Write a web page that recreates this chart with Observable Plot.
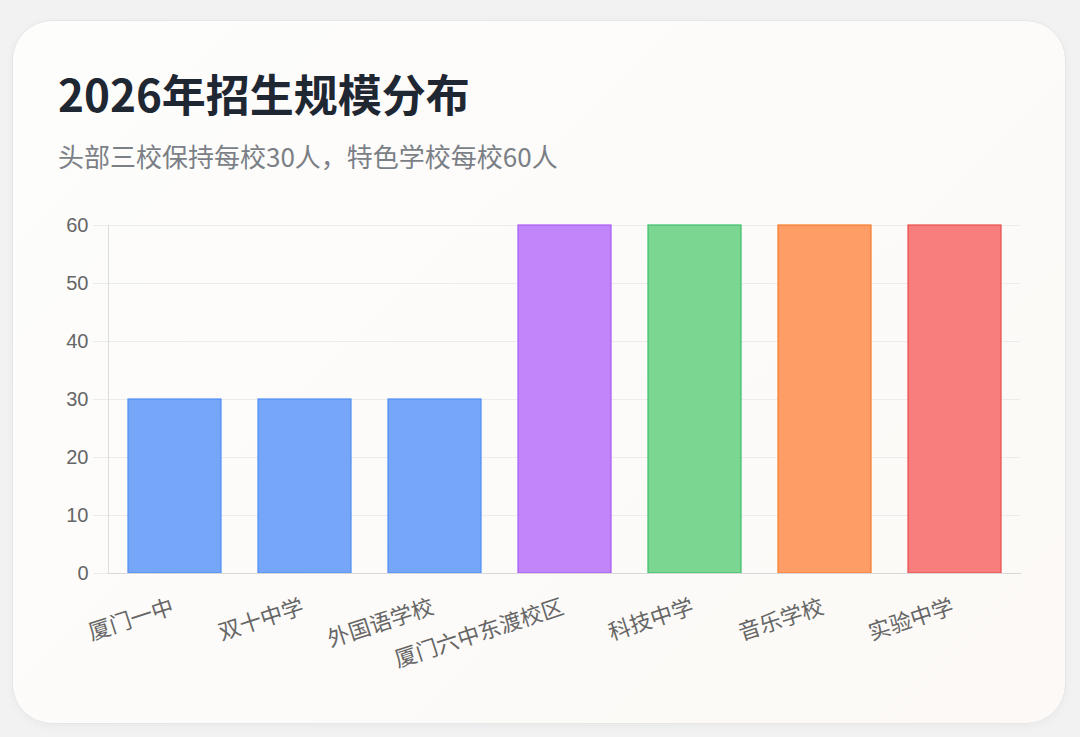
<!DOCTYPE html>
<html><head><meta charset="utf-8">
<script src="https://cdn.jsdelivr.net/npm/d3@7"></script>
<script src="https://cdn.jsdelivr.net/npm/@observablehq/plot@0.6"></script>
<style>
html,body{margin:0;padding:0;width:1080px;height:737px;overflow:hidden;background:#f2f2f2;font-family:"Liberation Sans","Noto Sans CJK SC",sans-serif;}
#card{position:absolute;left:12px;top:20px;width:1052px;height:702px;border-radius:40px;background:linear-gradient(135deg,#fdfdfc 0%,#fcf9f6 100%);border:1px solid #e6e6e6;box-shadow:0 2px 8px rgba(0,0,0,0.04);}
#title{position:absolute;left:58px;top:71px;font-family:"Noto Sans CJK SC",sans-serif;font-size:44px;line-height:1;font-weight:bold;color:#1f2733;white-space:nowrap;}
#subtitle{position:absolute;left:58px;top:143px;font-family:"Noto Sans CJK SC",sans-serif;font-size:26px;line-height:1;color:#7b7f86;white-space:nowrap;}
#chart{position:absolute;left:0;top:200px;}
</style></head>
<body>
<div id="card"></div>
<div id="title">2026年招生规模分布</div>
<div id="subtitle">头部三校保持每校30人，特色学校每校60人</div>
<div id="chart"></div>
<script>
const schools = ["厦门一中","双十中学","外国语学校","厦门六中东渡校区","科技中学","音乐学校","实验中学"];
const quotas = [30,30,30,60,60,60,60];
const fillColors = ["#76a6f8","#76a6f8","#76a6f8","#c386fa","#7bd692","#fe9e66","#f77e7c"];
const strokeColors = ["#4f8ef5","#4f8ef5","#4f8ef5","#a95cf6","#3dbd68","#f97c2c","#ea4d4d"];
const yTicks = [0,10,20,30,40,50,60];

const data = schools.map((s,i)=>({school:s, value:quotas[i], fill:fillColors[i], stroke:strokeColors[i]}));

const chart = Plot.plot({
  width:1080, height:480,
  marginLeft:108, marginRight:60, marginTop:25, marginBottom:107,
  style:{fontFamily:'"Liberation Sans","Noto Sans CJK SC",sans-serif', background:"transparent", fontSize:"20px"},
  x:{domain:schools, paddingInner:0.286, paddingOuter:0.143, label:null},
  y:{domain:[0,60], label:null},
  marks:[
    Plot.gridY(yTicks,{stroke:"#ececec", strokeOpacity:1}),
    Plot.axisY(yTicks,{tickSize:15, tickPadding:5, stroke:"#ececec", fill:"#666", fontSize:20, label:null}),
    Plot.barY(data,{x:"school", y:"value", fill:d=>d.fill, stroke:d=>d.stroke, strokeWidth:1.2}),
    Plot.frame({anchor:"left", stroke:"#dcdcdc"}),
    Plot.frame({anchor:"bottom", stroke:"#d8d8d8"}),
    Plot.axisX({tickSize:0, tickRotate:-18, tickPadding:33, dx:-2, fill:"#666", fontSize:22, fontFamily:'"Noto Sans CJK SC",sans-serif', label:null})
  ]
});
document.getElementById("chart").appendChild(chart);
</script>
</body></html>
